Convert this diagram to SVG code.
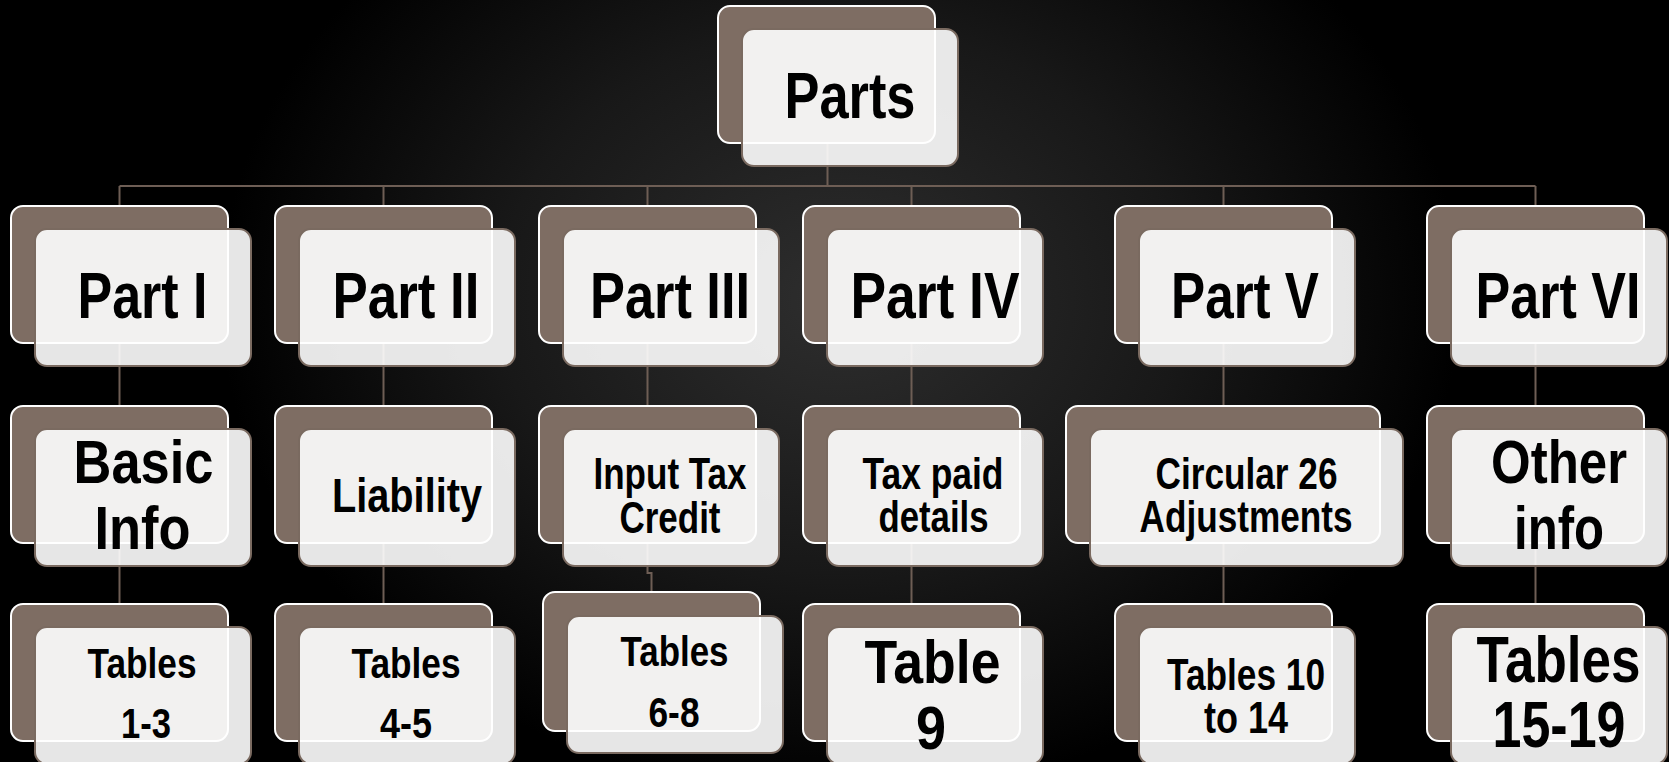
<svg xmlns="http://www.w3.org/2000/svg" width="1669" height="762" viewBox="0 0 1669 762">
<defs>
<radialGradient id="bg" gradientUnits="userSpaceOnUse" cx="840" cy="300" r="620" gradientTransform="translate(840 300) scale(1 0.8) translate(-840 -300)">
<stop offset="0" stop-color="#2e2e2e"/>
<stop offset="0.55" stop-color="#181818"/>
<stop offset="1" stop-color="#000000"/>
</radialGradient>
</defs>
<style>
.back{fill:#7e6d63;stroke:#ffffff;stroke-width:2}
.front{fill:#ffffff;fill-opacity:0.9;stroke:#7a6a60;stroke-width:2}
.conn{fill:none;stroke:#6e5e55;stroke-width:2}
text{font-family:"Liberation Sans Narrow","Liberation Sans",Arial,sans-serif;font-weight:bold;fill:#000;text-anchor:middle}
</style>
<rect x="0" y="0" width="1669" height="762" fill="url(#bg)"/>
<g id="connectors">
<path class="conn" d="M827.5 144 V186 M119.5 186 H1535.5"/>
<path class="conn" d="M119.5 186 V604"/>
<path class="conn" d="M383.5 186 V604"/>
<path class="conn" d="M647.5 186 V573 H651.5 V592"/>
<path class="conn" d="M911.5 186 V604"/>
<path class="conn" d="M1223.5 186 V604"/>
<path class="conn" d="M1535.5 186 V604"/>
</g>
<g id="parts">
<rect class="back" x="718" y="6" width="217" height="137" rx="12"/>
<rect class="front" x="742" y="29" width="216" height="137" rx="12"/>
<text x="850" y="118" font-size="64" textLength="131" lengthAdjust="spacingAndGlyphs">Parts</text>
</g>
<g id="part1">
<rect class="back" x="11" y="206" width="217" height="137" rx="12"/>
<rect class="front" x="35" y="229" width="216" height="137" rx="12"/>
<text x="142.5" y="318" font-size="64" textLength="130" lengthAdjust="spacingAndGlyphs">Part I</text>
</g>
<g id="part2">
<rect class="back" x="275" y="206" width="217" height="137" rx="12"/>
<rect class="front" x="299" y="229" width="216" height="137" rx="12"/>
<text x="406" y="318" font-size="64" textLength="147" lengthAdjust="spacingAndGlyphs">Part II</text>
</g>
<g id="part3">
<rect class="back" x="539" y="206" width="217" height="137" rx="12"/>
<rect class="front" x="563" y="229" width="216" height="137" rx="12"/>
<text x="670" y="318" font-size="64" textLength="160" lengthAdjust="spacingAndGlyphs">Part III</text>
</g>
<g id="part4">
<rect class="back" x="803" y="206" width="217" height="137" rx="12"/>
<rect class="front" x="827" y="229" width="216" height="137" rx="12"/>
<text x="935" y="318" font-size="64" textLength="169" lengthAdjust="spacingAndGlyphs">Part IV</text>
</g>
<g id="part5">
<rect class="back" x="1115" y="206" width="217" height="137" rx="12"/>
<rect class="front" x="1139" y="229" width="216" height="137" rx="12"/>
<text x="1245" y="318" font-size="64" textLength="148" lengthAdjust="spacingAndGlyphs">Part V</text>
</g>
<g id="part6">
<rect class="back" x="1427" y="206" width="217" height="137" rx="12"/>
<rect class="front" x="1451" y="229" width="216" height="137" rx="12"/>
<text x="1558" y="318" font-size="64" textLength="165" lengthAdjust="spacingAndGlyphs">Part VI</text>
</g>
<g id="basic-info">
<rect class="back" x="11" y="406" width="217" height="137" rx="12"/>
<rect class="front" x="35" y="429" width="216" height="137" rx="12"/>
<text x="143.5" y="483" font-size="62" textLength="140" lengthAdjust="spacingAndGlyphs">Basic</text>
<text x="142.5" y="549" font-size="62" textLength="96" lengthAdjust="spacingAndGlyphs">Info</text>
</g>
<g id="liability">
<rect class="back" x="275" y="406" width="217" height="137" rx="12"/>
<rect class="front" x="299" y="429" width="216" height="137" rx="12"/>
<text x="407" y="512" font-size="48" textLength="150" lengthAdjust="spacingAndGlyphs">Liability</text>
</g>
<g id="itc">
<rect class="back" x="539" y="406" width="217" height="137" rx="12"/>
<rect class="front" x="563" y="429" width="216" height="137" rx="12"/>
<text x="670" y="489" font-size="44" textLength="153" lengthAdjust="spacingAndGlyphs">Input Tax</text>
<text x="670" y="533" font-size="44" textLength="101" lengthAdjust="spacingAndGlyphs">Credit</text>
</g>
<g id="tax-paid">
<rect class="back" x="803" y="406" width="217" height="137" rx="12"/>
<rect class="front" x="827" y="429" width="216" height="137" rx="12"/>
<text x="933" y="489" font-size="44" textLength="141" lengthAdjust="spacingAndGlyphs">Tax paid</text>
<text x="933.5" y="532" font-size="44" textLength="110" lengthAdjust="spacingAndGlyphs">details</text>
</g>
<g id="circular">
<rect class="back" x="1066" y="406" width="314" height="137" rx="12"/>
<rect class="front" x="1090" y="429" width="313" height="137" rx="12"/>
<text x="1246.5" y="489" font-size="44" textLength="182" lengthAdjust="spacingAndGlyphs">Circular 26</text>
<text x="1246" y="532" font-size="44" textLength="213" lengthAdjust="spacingAndGlyphs">Adjustments</text>
</g>
<g id="other-info">
<rect class="back" x="1427" y="406" width="217" height="137" rx="12"/>
<rect class="front" x="1451" y="429" width="216" height="137" rx="12"/>
<text x="1559" y="483" font-size="62" textLength="136" lengthAdjust="spacingAndGlyphs">Other</text>
<text x="1559" y="549" font-size="62" textLength="90" lengthAdjust="spacingAndGlyphs">info</text>
</g>
<g id="tables-1-3">
<rect class="back" x="11" y="604" width="217" height="137" rx="12"/>
<rect class="front" x="35" y="627" width="216" height="137" rx="12"/>
<text x="142" y="678" font-size="42" textLength="109" lengthAdjust="spacingAndGlyphs">Tables</text>
<text x="146" y="738" font-size="42" textLength="50" lengthAdjust="spacingAndGlyphs">1-3</text>
</g>
<g id="tables-4-5">
<rect class="back" x="275" y="604" width="217" height="137" rx="12"/>
<rect class="front" x="299" y="627" width="216" height="137" rx="12"/>
<text x="406" y="678" font-size="42" textLength="109" lengthAdjust="spacingAndGlyphs">Tables</text>
<text x="406" y="738" font-size="42" textLength="52" lengthAdjust="spacingAndGlyphs">4-5</text>
</g>
<g id="tables-6-8">
<rect class="back" x="543" y="592" width="217" height="139" rx="12"/>
<rect class="front" x="567" y="616" width="216" height="137" rx="12"/>
<text x="674.5" y="666" font-size="42" textLength="108" lengthAdjust="spacingAndGlyphs">Tables</text>
<text x="674" y="727" font-size="42" textLength="51" lengthAdjust="spacingAndGlyphs">6-8</text>
</g>
<g id="table-9">
<rect class="back" x="803" y="604" width="217" height="137" rx="12"/>
<rect class="front" x="827" y="627" width="216" height="137" rx="12"/>
<text x="932.5" y="683" font-size="62" textLength="136" lengthAdjust="spacingAndGlyphs">Table</text>
<text x="931" y="749" font-size="62" textLength="30" lengthAdjust="spacingAndGlyphs">9</text>
</g>
<g id="tables-10-14">
<rect class="back" x="1115" y="604" width="217" height="137" rx="12"/>
<rect class="front" x="1139" y="627" width="216" height="137" rx="12"/>
<text x="1246" y="690" font-size="44" textLength="158" lengthAdjust="spacingAndGlyphs">Tables 10</text>
<text x="1246" y="733" font-size="44" textLength="84" lengthAdjust="spacingAndGlyphs">to 14</text>
</g>
<g id="tables-15-19">
<rect class="back" x="1427" y="604" width="217" height="137" rx="12"/>
<rect class="front" x="1451" y="627" width="216" height="137" rx="12"/>
<text x="1558.5" y="682" font-size="65" textLength="164" lengthAdjust="spacingAndGlyphs">Tables</text>
<text x="1559" y="747" font-size="65" textLength="133" lengthAdjust="spacingAndGlyphs">15-19</text>
</g>
</svg>
